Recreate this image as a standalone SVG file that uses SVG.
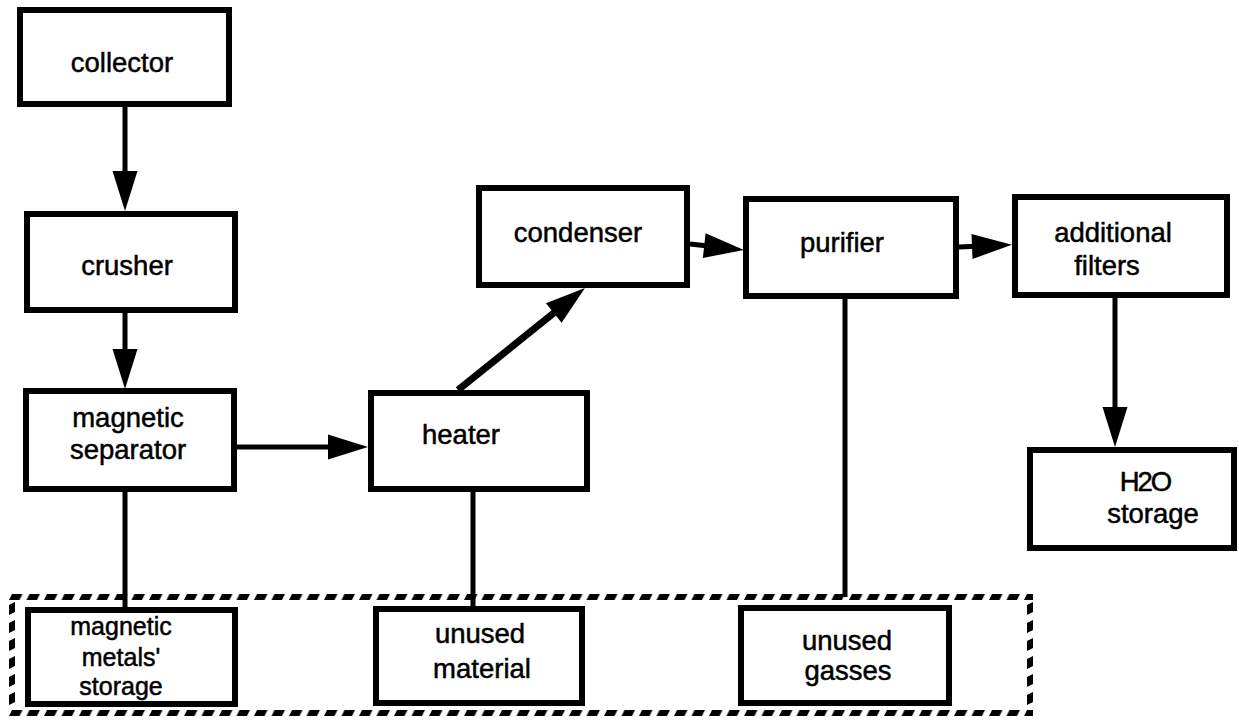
<svg xmlns="http://www.w3.org/2000/svg" width="1239" height="721" viewBox="0 0 1239 721">
  <style>
    .box { fill: #fff; stroke: #000; stroke-width: 6; }
    .lbl { font-family: "Liberation Sans", Arial, Helvetica, sans-serif; font-size: 27.5px; fill: #000; stroke: #000; stroke-width: 0.5; text-anchor: middle; }
    .sm { font-size: 25px; }
    .wire { fill: none; stroke: #000; stroke-width: 5; }
    .flow { fill: none; stroke: #000; stroke-width: 5; marker-end: url(#head); }
  </style>
  <defs>
    <!-- solid arrowhead; tip sits 36px beyond the path end -->
    <marker id="head" markerUnits="userSpaceOnUse" markerWidth="44" markerHeight="28" refX="4" refY="12.5" orient="auto" overflow="visible">
      <path d="M0,0 L40,12.5 L0,25 z" fill="#000"/>
    </marker>
    <!-- slanted dashes for the storage boundary -->
    <pattern id="dashH" patternUnits="userSpaceOnUse" x="0" y="0" width="17.5" height="6">
      <polygon points="3,0 13.5,0 10.5,6 0,6" fill="#000"/>
    </pattern>
    <pattern id="dashV" patternUnits="userSpaceOnUse" x="0" y="0" width="6" height="18">
      <polygon points="6,0 6,10 0,13 0,3" fill="#000"/>
    </pattern>
  </defs>

  <rect width="1239" height="721" fill="#fff"/>

  <!-- storage boundary (dashed) -->
  <g id="storage-area">
    <rect width="1024" height="6" fill="url(#dashH)" transform="translate(9,594)"/>
    <rect width="1024" height="6" fill="url(#dashH)" transform="translate(9,710)"/>
    <rect width="6" height="108" fill="url(#dashV)" transform="translate(9,602)"/>
    <rect width="6" height="108" fill="url(#dashV)" transform="translate(1027,602)"/>
  </g>

  <!-- connectors -->
  <g id="connectors">
    <path class="flow" d="M125,107 L125,175"/>
    <path class="flow" d="M125,313 L125,353"/>
    <path class="flow" d="M237,447 L332,447"/>
    <path class="flow" d="M458,390 L556.9,310.5" style="stroke-width:7"/>
    <path class="flow" d="M690,244 L708.2,246"/>
    <path class="flow" d="M959,247 L976,246.3"/>
    <path class="flow" d="M1115,298 L1115,411"/>
    <path class="wire" d="M125,492 L125,607"/>
    <path class="wire" d="M473,492 L473,606"/>
    <path class="wire" d="M845,299 L845,597"/>
  </g>

  <g id="collector">
    <rect class="box" x="20" y="10" width="209" height="94"/>
    <text class="lbl" x="122" y="72">collector</text>
  </g>
  <g id="crusher">
    <rect class="box" x="27" y="214" width="208" height="96"/>
    <text class="lbl" x="127" y="275">crusher</text>
  </g>
  <g id="magnetic-separator">
    <rect class="box" x="26" y="391" width="208" height="98"/>
    <text class="lbl" x="128" y="427">magnetic</text>
    <text class="lbl" x="128" y="459">separator</text>
  </g>
  <g id="heater">
    <rect class="box" x="371" y="393" width="216" height="96"/>
    <text class="lbl" x="461" y="444">heater</text>
  </g>
  <g id="condenser">
    <rect class="box" x="479" y="188" width="208" height="97"/>
    <text class="lbl" x="578" y="242">condenser</text>
  </g>
  <g id="purifier">
    <rect class="box" x="746" y="199" width="210" height="97"/>
    <text class="lbl" x="842" y="252">purifier</text>
  </g>
  <g id="additional-filters">
    <rect class="box" x="1015" y="197" width="212" height="98"/>
    <text class="lbl" x="1113" y="242">additional</text>
    <text class="lbl" x="1107" y="275">filters</text>
  </g>
  <g id="h2o-storage">
    <rect class="box" x="1030" y="450" width="204" height="98"/>
    <text class="lbl" x="1145" y="491" letter-spacing="-2">H2O</text>
    <text class="lbl" x="1153" y="523">storage</text>
  </g>
  <g id="magnetic-metals-storage">
    <rect class="box" x="28" y="610" width="207" height="94"/>
    <text class="lbl sm" x="121" y="635">magnetic</text>
    <text class="lbl sm" x="121" y="666">metals'</text>
    <text class="lbl sm" x="121" y="695">storage</text>
  </g>
  <g id="unused-material">
    <rect class="box" x="376" y="609" width="206" height="94"/>
    <text class="lbl" x="480" y="643">unused</text>
    <text class="lbl" x="482" y="678">material</text>
  </g>
  <g id="unused-gasses">
    <rect class="box" x="741" y="608" width="208" height="95"/>
    <text class="lbl" x="847" y="650">unused</text>
    <text class="lbl" x="848" y="680">gasses</text>
  </g>
</svg>
